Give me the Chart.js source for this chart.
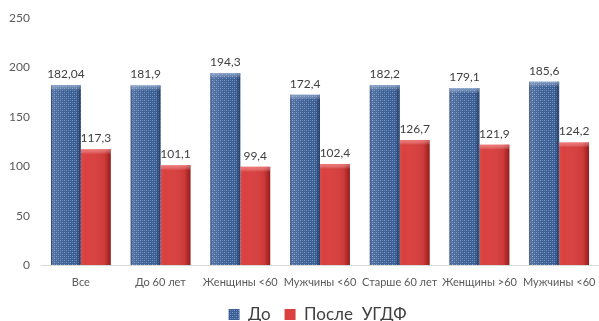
<!DOCTYPE html>
<html>
<head>
<meta charset="utf-8">
<script src="https://cdn.jsdelivr.net/npm/chart.js@4/dist/chart.umd.min.js"></script>
<style>
  html, body { margin: 0; padding: 0; background: #fff; }
  #wrap { width: 599px; height: 321px; }
</style>
</head>
<body>
<div id="wrap"><canvas id="c" width="599" height="321"></canvas></div>
<script>
// Группы пациентов
const categories = ['Все', 'До 60 лет', 'Женщины <60', 'Мужчины <60', 'Старше 60 лет', 'Женщины >60', 'Мужчины <60'];
// Уровень до и после процедуры
const beforeValues = [182.04, 181.9, 194.3, 172.4, 182.2, 179.1, 185.6];
const afterValues = [117.3, 101.1, 99.4, 102.4, 126.7, 121.9, 124.2];
const seriesNames = ['До', 'После  УГДФ'];
const yTicks = [0, 50, 100, 150, 200, 250];

const FONT = 'Lato, "Open Sans", sans-serif';

// Синяя заливка с точечной текстурой
function makeBluePattern() {
  const p = document.createElement('canvas');
  p.width = 4; p.height = 4;
  const g = p.getContext('2d');
  g.fillStyle = '#3c5f94';
  g.fillRect(0, 0, 4, 4);
  g.fillStyle = '#7d9fcf';
  g.fillRect(0, 0, 1, 1); g.fillRect(2, 2, 1, 1);
  g.fillStyle = '#5b7fb6';
  g.fillRect(2, 0, 1, 1); g.fillRect(0, 2, 1, 1);
  return document.getElementById('c').getContext('2d').createPattern(p, 'repeat');
}
const bluePattern = makeBluePattern();
const redFill = '#d9403f';

// Объёмная подсветка столбцов
const bevelPlugin = {
  id: 'bevel',
  afterDatasetsDraw(chart) {
    const ctx = chart.ctx;
    chart.data.datasets.forEach((ds, di) => {
      chart.getDatasetMeta(di).data.forEach(bar => {
        const left = bar.x - bar.width / 2, right = bar.x + bar.width / 2;
        const top = bar.y, bottom = bar.base;
        const g = ctx.createLinearGradient(left, 0, right, 0);
        if (di === 0) {
          g.addColorStop(0, 'rgba(20,40,80,0.55)');
          g.addColorStop(0.12, 'rgba(255,255,255,0.10)');
          g.addColorStop(0.85, 'rgba(0,0,0,0)');
          g.addColorStop(1, 'rgba(20,40,80,0.55)');
        } else {
          g.addColorStop(0, 'rgba(255,255,255,0.05)');
          g.addColorStop(0.15, 'rgba(255,255,255,0.0)');
          g.addColorStop(0.8, 'rgba(90,0,0,0.10)');
          g.addColorStop(1, 'rgba(90,0,0,0.55)');
        }
        ctx.save();
        ctx.fillStyle = g;
        ctx.fillRect(left, top, right - left, bottom - top);
        // верхняя грань
        const tg = ctx.createLinearGradient(0, top, 0, top + 5);
        tg.addColorStop(0, di === 0 ? 'rgba(160,185,220,0.6)' : 'rgba(255,150,150,0.6)');
        tg.addColorStop(1, 'rgba(255,255,255,0)');
        ctx.fillStyle = tg;
        ctx.fillRect(left, top, right - left, 5);
        ctx.restore();
      });
    });
  }
};

// Подписи значений над столбцами
const valueLabelPlugin = {
  id: 'valueLabels',
  afterDatasetsDraw(chart) {
    const ctx = chart.ctx;
    ctx.save();
    ctx.font = '12px ' + FONT;
    ctx.fillStyle = '#404040';
    ctx.textAlign = 'center';
    ctx.textBaseline = 'bottom';
    chart.data.datasets.forEach((ds, di) => {
      chart.getDatasetMeta(di).data.forEach((bar, i) => {
        const txt = String(ds.data[i]).replace('.', ',');
        ctx.fillText(txt, bar.x, bar.y - 5);
      });
    });
    ctx.restore();
  }
};

// Легенда центрируется по области построения, а не по всему холсту
const legendShiftPlugin = {
  id: 'legendShift',
  afterLayout(chart) {
    const lg = chart.legend;
    if (!lg) return;
    const shift = 18;
    lg.left += shift;
    lg.right += shift;
  }
};

new Chart(document.getElementById('c'), {
  type: 'bar',
  data: {
    labels: categories,
    datasets: [
      { label: seriesNames[0], data: beforeValues, backgroundColor: bluePattern, borderWidth: 0 },
      { label: seriesNames[1], data: afterValues, backgroundColor: redFill, borderWidth: 0 }
    ]
  },
  options: {
    responsive: false,
    animation: false,
    devicePixelRatio: 1,
    layout: { padding: { top: 7, right: 0, left: 0, bottom: -12 } },
    datasets: { bar: { categoryPercentage: 0.75, barPercentage: 1 } },
    scales: {
      x: {
        grid: { display: false, drawTicks: false },
        border: { display: true, color: '#d9d9d9', width: 1 },
        ticks: { color: '#595959', font: { size: 11, family: FONT }, padding: 11, maxRotation: 0, autoSkip: false },
        afterFit(scale) { scale.height = 27; scale.paddingRight = 0; scale.paddingLeft = 0; }
      },
      y: {
        min: 0, max: 250,
        afterBuildTicks(scale) { scale.ticks = yTicks.map(v => ({ value: v })); },
        grid: { display: false, drawTicks: false },
        border: { display: false },
        ticks: { color: '#595959', font: { size: 12, family: FONT }, padding: 11 },
        afterFit(scale) { scale.width = 41; }
      }
    },
    plugins: {
      legend: {
        position: 'bottom',
        labels: {
          color: '#404040',
          font: { size: 17, family: FONT },
          boxWidth: 11, boxHeight: 11,
          padding: 14
        }
      },
      tooltip: { enabled: false }
    }
  },
  plugins: [bevelPlugin, valueLabelPlugin, legendShiftPlugin]
});
</script>
</body>
</html>
